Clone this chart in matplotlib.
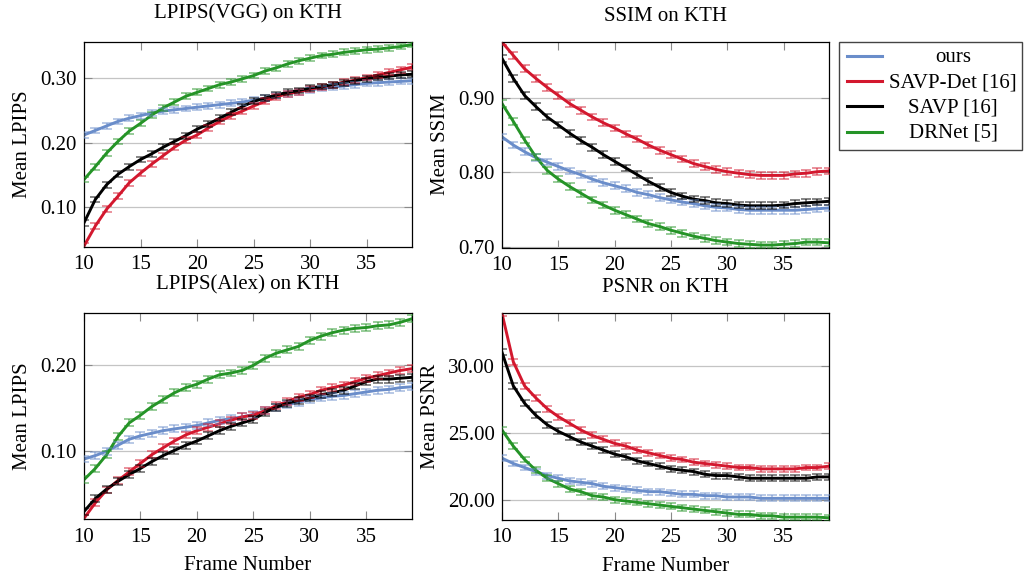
import numpy as np
import matplotlib
matplotlib.use('Agg')
import matplotlib.pyplot as plt
from matplotlib.lines import Line2D
from matplotlib.patches import Rectangle
from matplotlib.ticker import FormatStrFormatter

plt.rcParams['font.family'] = ['Liberation Serif', 'DejaVu Serif']
plt.rcParams['font.size'] = 15

frames = np.arange(10, 40)

methods = ['ours', 'SAVP-Det [16]', 'SAVP [16]', 'DRNet [5]']
colors = ['#6a8dca', '#d3182e', '#000000', '#259427']

# LPIPS(VGG) on KTH
vgg_ours = [0.212, 0.219, 0.226, 0.233, 0.238, 0.242, 0.246, 0.249, 0.251, 0.253,
            0.255, 0.257, 0.259, 0.261, 0.263, 0.266, 0.269, 0.273, 0.276, 0.279,
            0.282, 0.284, 0.286, 0.288, 0.290, 0.292, 0.293, 0.294, 0.295, 0.296]
vgg_savpdet = [0.040, 0.071, 0.097, 0.117, 0.138, 0.153, 0.167, 0.180, 0.193, 0.204,
               0.212, 0.223, 0.233, 0.242, 0.249, 0.257, 0.264, 0.271, 0.276, 0.279,
               0.283, 0.286, 0.290, 0.294, 0.297, 0.301, 0.305, 0.309, 0.313, 0.317]
vgg_savp = [0.076, 0.112, 0.135, 0.151, 0.163, 0.174, 0.183, 0.193, 0.202, 0.211,
            0.221, 0.229, 0.238, 0.247, 0.256, 0.264, 0.269, 0.274, 0.278, 0.281,
            0.285, 0.287, 0.290, 0.293, 0.296, 0.299, 0.301, 0.303, 0.305, 0.306]
vgg_drnet = [0.143, 0.163, 0.184, 0.202, 0.218, 0.230, 0.243, 0.254, 0.263, 0.272,
             0.278, 0.284, 0.290, 0.294, 0.299, 0.304, 0.311, 0.316, 0.322, 0.327,
             0.331, 0.335, 0.337, 0.340, 0.342, 0.344, 0.345, 0.347, 0.349, 0.352]

# SSIM on KTH
ssim_ours = [0.848, 0.837, 0.828, 0.820, 0.814, 0.808, 0.802, 0.797, 0.791, 0.786,
             0.782, 0.778, 0.773, 0.770, 0.766, 0.763, 0.760, 0.758, 0.755, 0.753,
             0.752, 0.750, 0.749, 0.749, 0.749, 0.749, 0.749, 0.750, 0.751, 0.752]
ssim_savpdet = [0.976, 0.958, 0.940, 0.927, 0.915, 0.904, 0.893, 0.884, 0.875, 0.867,
                0.860, 0.852, 0.845, 0.837, 0.830, 0.824, 0.818, 0.812, 0.808, 0.804,
                0.801, 0.799, 0.797, 0.796, 0.796, 0.796, 0.798, 0.799, 0.801, 0.802]
ssim_savp = [0.954, 0.927, 0.904, 0.889, 0.875, 0.864, 0.853, 0.843, 0.834, 0.824,
             0.815, 0.806, 0.797, 0.788, 0.780, 0.773, 0.768, 0.764, 0.762, 0.759,
             0.758, 0.756, 0.755, 0.755, 0.755, 0.756, 0.758, 0.759, 0.760, 0.761]
ssim_drnet = [0.893, 0.869, 0.844, 0.821, 0.803, 0.791, 0.781, 0.772, 0.763, 0.756,
              0.749, 0.743, 0.737, 0.731, 0.727, 0.722, 0.718, 0.714, 0.711, 0.708,
              0.706, 0.704, 0.703, 0.702, 0.702, 0.703, 0.704, 0.706, 0.706, 0.705]

# LPIPS(Alex) on KTH
alex_ours = [0.091, 0.095, 0.100, 0.107, 0.114, 0.118, 0.121, 0.124, 0.126, 0.128,
             0.130, 0.133, 0.136, 0.138, 0.140, 0.143, 0.147, 0.151, 0.154, 0.157,
             0.160, 0.162, 0.164, 0.165, 0.167, 0.169, 0.171, 0.172, 0.174, 0.175]
alex_savpdet = [0.022, 0.040, 0.055, 0.066, 0.076, 0.086, 0.096, 0.104, 0.112, 0.119,
                0.124, 0.128, 0.132, 0.136, 0.140, 0.142, 0.147, 0.153, 0.158, 0.163,
                0.166, 0.171, 0.174, 0.177, 0.181, 0.185, 0.188, 0.191, 0.194, 0.196]
alex_savp = [0.030, 0.045, 0.056, 0.065, 0.073, 0.080, 0.088, 0.095, 0.101, 0.107,
             0.112, 0.118, 0.124, 0.129, 0.133, 0.137, 0.145, 0.151, 0.156, 0.159,
             0.162, 0.166, 0.168, 0.171, 0.176, 0.181, 0.184, 0.184, 0.185, 0.186]
alex_drnet = [0.067, 0.080, 0.096, 0.117, 0.133, 0.142, 0.152, 0.160, 0.168, 0.174,
              0.178, 0.184, 0.189, 0.191, 0.194, 0.200, 0.208, 0.214, 0.218, 0.222,
              0.229, 0.234, 0.238, 0.241, 0.243, 0.244, 0.246, 0.247, 0.250, 0.254]

# PSNR on KTH
psnr_ours = [23.1, 22.7, 22.4, 22.1, 21.8, 21.6, 21.4, 21.3, 21.2, 21.0,
             20.9, 20.8, 20.7, 20.6, 20.6, 20.5, 20.4, 20.4, 20.3, 20.3,
             20.2, 20.2, 20.2, 20.1, 20.1, 20.1, 20.1, 20.1, 20.1, 20.1]
psnr_savpdet = [33.9, 30.3, 28.5, 27.6, 26.8, 26.2, 25.7, 25.2, 24.8, 24.5,
                24.2, 24.0, 23.7, 23.5, 23.3, 23.1, 23.0, 22.8, 22.7, 22.6,
                22.5, 22.4, 22.4, 22.3, 22.3, 22.3, 22.3, 22.4, 22.4, 22.5]
psnr_savp = [31.0, 28.5, 27.2, 26.3, 25.6, 25.1, 24.7, 24.3, 24.0, 23.7,
             23.4, 23.2, 22.9, 22.7, 22.5, 22.3, 22.2, 22.1, 21.9, 21.8,
             21.8, 21.7, 21.6, 21.6, 21.6, 21.6, 21.6, 21.6, 21.7, 21.7]
psnr_drnet = [25.2, 24.0, 23.0, 22.2, 21.6, 21.2, 20.8, 20.6, 20.3, 20.2,
              20.0, 19.9, 19.8, 19.7, 19.6, 19.5, 19.4, 19.3, 19.2, 19.1,
              19.0, 18.9, 18.9, 18.8, 18.8, 18.7, 18.7, 18.7, 18.7, 18.65]

# half-height of the error bars per panel
err_vgg = 0.0045
err_ssim = 0.0045
err_alex = 0.004
err_psnr = 0.22

W, H = 1024, 579
fig = plt.figure(figsize=(W / 100, H / 100), dpi=100)


def rect(l, t, r, b):
    return [l / W, 1 - b / H, (r - l) / W, (b - t) / H]


panels = [
    dict(pos=rect(84, 42, 412, 247), title='LPIPS(VGG) on KTH', ylabel='Mean LPIPS',
         data=[vgg_ours, vgg_savpdet, vgg_savp, vgg_drnet], err=err_vgg,
         ylim=(0.0385, 0.356), yticks=[0.10, 0.20, 0.30], xlabel=None, pad=17),
    dict(pos=rect(502, 41.7, 828.7, 247.5), title='SSIM on KTH', ylabel='Mean SSIM',
         data=[ssim_ours, ssim_savpdet, ssim_savp, ssim_drnet], err=err_ssim,
         ylim=(0.6987, 0.9765), yticks=[0.70, 0.80, 0.90], xlabel=None, pad=15),
    dict(pos=rect(84, 313.3, 411.5, 519.3), title='LPIPS(Alex) on KTH', ylabel='Mean LPIPS',
         data=[alex_ours, alex_savpdet, alex_savp, alex_drnet], err=err_alex,
         ylim=(0.0209, 0.2605), yticks=[0.10, 0.20], xlabel='Frame Number', pad=17),
    dict(pos=rect(502, 313.3, 828.7, 520), title='PSNR on KTH', ylabel='Mean PSNR',
         data=[psnr_ours, psnr_savpdet, psnr_savp, psnr_drnet], err=err_psnr,
         ylim=(18.485, 33.91), yticks=[20, 25, 30], xlabel='Frame Number', pad=15),
]

for p in panels:
    ax = fig.add_axes(p['pos'])
    for vals, c in zip(p['data'], colors):
        ax.plot(frames, vals, color=c, lw=2.1, zorder=2)
        ax.errorbar(frames, vals, yerr=p['err'], fmt='none', ecolor=c, alpha=0.6,
                    elinewidth=1.1, capsize=3.6, capthick=1.1, zorder=3)
    ax.set_xlim(10, 39)
    ax.set_ylim(*p['ylim'])
    ax.set_xticks([10, 15, 20, 25, 30, 35])
    ax.set_yticks(p['yticks'])
    ax.yaxis.set_major_formatter(FormatStrFormatter('%.2f'))
    ax.grid(axis='y', color='#c4c4c4', lw=0.9)
    ax.set_axisbelow(True)
    ax.tick_params(direction='in', length=6, width=0.8, color='#8a8a8a',
                   top=True, right=True, labelsize=15)
    ax.tick_params(axis='x', pad=6)
    ax.tick_params(axis='y', pad=5)
    for s in ax.spines.values():
        s.set_linewidth(0.9)
    ax.set_title(p['title'], fontsize=15, pad=p['pad'])
    ax.set_ylabel(p['ylabel'], fontsize=15, labelpad=6)
    if p['xlabel']:
        ax.set_xlabel(p['xlabel'], fontsize=15, labelpad=7)

# legend box to the right of the SSIM panel
fig.add_artist(Rectangle((839 / W, 1 - 150 / H), (1022 - 839) / W, (150 - 41.7) / H,
                         transform=fig.transFigure, facecolor='white',
                         edgecolor='#444444', lw=1.0))
for i, (name, c) in enumerate(zip(methods, colors)):
    yy = 1 - (56 + 25.2 * i) / H
    fig.add_artist(Line2D([847 / W, 882 / W], [yy, yy], transform=fig.transFigure,
                          color=c, lw=2.2))
    fig.text(953 / W, yy - 1.5 / H, name, ha='center', va='center', fontsize=15)

fig.savefig('out.png', dpi=100)
